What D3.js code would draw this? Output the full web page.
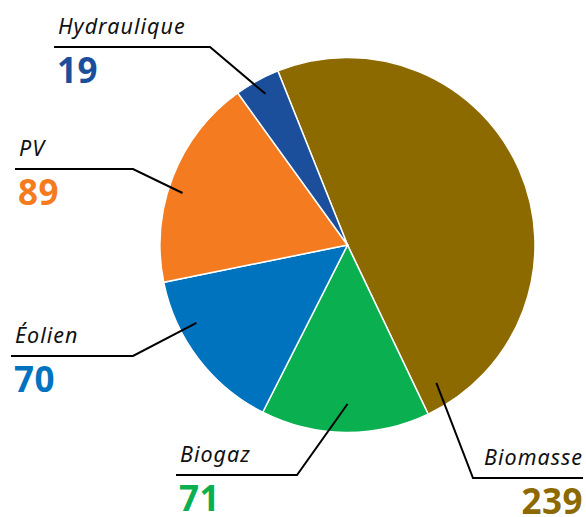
<!DOCTYPE html>
<html>
<head>
<meta charset="utf-8">
<script src="https://cdn.jsdelivr.net/npm/d3@7"></script>
<style>
  html, body { margin: 0; padding: 0; background: #fff; }
  svg { display: block; }
  .lbl { font-family: "Noto Sans", sans-serif; font-style: italic; font-weight: 400; font-size: 21.5px; letter-spacing: 1px; fill: #111; }
  .val { font-family: "Noto Sans", sans-serif; font-weight: 700; font-size: 35px; letter-spacing: 0.5px; }
</style>
</head>
<body>
<svg id="chart" width="586" height="517"></svg>
<script>
// Production by source (slices drawn clockwise in this order)
const categories = ["Biomasse", "Biogaz", "Éolien", "PV", "Hydraulique"];
const values = [239, 71, 70, 89, 19];
const colors = ["#8c6a00", "#0aaf50", "#0073bf", "#f47b20", "#1b4f9c"];

// Callout layout: anchor angle/radius inside the slice, elbow point, end of the rule, text side
const callouts = {
  "Hydraulique": { ang: -28.5, r: 172, elbow: [210, 47], end: 54,  side: "left" },
  "PV":          { ang: 287.5, r: 173, elbow: [133, 169], end: 15, side: "left" },
  "Éolien":      { ang: 242.7, r: 170, elbow: [133, 356], end: 11, side: "left" },
  "Biogaz":      { ang: 180,   r: 159, elbow: [297, 475], end: 176, side: "left" },
  "Biomasse":    { ang: 147.2, r: 164, elbow: [473, 478], end: 583, side: "right" }
};

const cx = 347.5, cy = 245, R = 187.5;
const svg = d3.select("#chart");
const g = svg.append("g").attr("transform", `translate(${cx},${cy})`);

const data = categories.map((c, i) => ({ name: c, value: values[i], color: colors[i] }));
const startDeg = -21.8;
const pie = d3.pie().value(d => d.value).sort(null)
  .startAngle(startDeg * Math.PI / 180)
  .endAngle((startDeg + 360) * Math.PI / 180);
const arc = d3.arc().innerRadius(0).outerRadius(R);

g.selectAll("path.slice")
  .data(pie(data))
  .join("path")
  .attr("class", "slice")
  .attr("d", arc)
  .attr("fill", d => d.data.color)
  .attr("stroke", "#fff")
  .attr("stroke-width", 1.5);

// Leader lines and labels
data.forEach(d => {
  const c = callouts[d.name];
  const a = c.ang * Math.PI / 180;
  const ax = cx + c.r * Math.sin(a), ay = cy - c.r * Math.cos(a);
  svg.append("polyline")
    .attr("points", [[ax, ay], c.elbow, [c.end, c.elbow[1]]].map(p => p.join(",")).join(" "))
    .attr("fill", "none")
    .attr("stroke", "#000")
    .attr("stroke-width", 2);

  const left = c.side === "left";
  svg.append("text")
    .attr("class", "lbl")
    .attr("x", left ? c.end + 4 : c.end)
    .attr("y", c.elbow[1] - 13)
    .attr("text-anchor", left ? "start" : "end")
    .text(d.name);
  svg.append("text")
    .attr("class", "val")
    .attr("x", left ? c.end + 3 : c.end)
    .attr("y", c.elbow[1] + 36)
    .attr("text-anchor", left ? "start" : "end")
    .attr("fill", d.color)
    .text(d.value);
});
</script>
</body>
</html>
